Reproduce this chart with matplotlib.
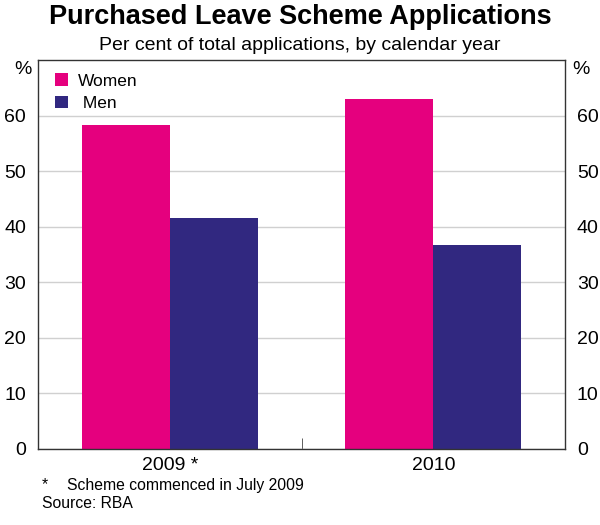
import numpy as np
import matplotlib.pyplot as plt

plt.rcParams['font.family'] = ['Liberation Sans', 'DejaVu Sans']

years = ['2009 *', '2010']
women = [58.3, 63.1]
men = [41.6, 36.7]
yticks = [0, 10, 20, 30, 40, 50, 60]

pink = '#e5007e'
navy = '#312880'

fig = plt.figure(figsize=(6, 5.25), dpi=100)
ax = fig.add_axes([0.0633, 0.1453, 0.8784, 0.7395])

x = np.arange(len(years))
w = 1 / 3
ax.bar(x - w / 2, women, w, color=pink, label='Women', zorder=2)
ax.bar(x + w / 2, men, w, color=navy, label=' Men', zorder=2)

ax.set_xlim(-0.5, 1.5)
ax.set_ylim(0, 70)
ax.set_yticks(yticks)
ax.yaxis.grid(True, color='#d0d0d0', lw=1, zorder=0)
ax.set_axisbelow(True)
ax.tick_params(axis='y', which='both', left=False, right=False,
               labelleft=True, labelright=True, labelsize=14, pad=5)
ax.set_xticks(x)
ax.set_xticklabels(years, fontsize=14)
ax.tick_params(axis='x', which='major', length=0, pad=6)
ax.set_xticks([0.5], minor=True)
ax.tick_params(axis='x', which='minor', direction='in', length=8, color='#444444')
for s in ax.spines.values():
    s.set_color('#333333')
    s.set_linewidth(1)

# % labels at top
ax.text(-0.013, 68.4, '%', transform=ax.get_yaxis_transform(), ha='right', va='center', fontsize=14)
ax.text(1.013, 68.4, '%', transform=ax.get_yaxis_transform(), ha='left', va='center', fontsize=14)

ax.legend(loc='upper left', frameon=False, fontsize=12.5, handlelength=0.75,
          handleheight=0.75, handletextpad=0.55, labelspacing=0.4,
          borderaxespad=0.0, bbox_to_anchor=(0.02, 0.985))

fig.text(0.5, 0.967, 'Purchased Leave Scheme Applications', ha='center', va='center',
         fontsize=19.5, fontweight='bold')
fig.text(0.5, 0.914, 'Per cent of total applications, by calendar year', ha='center',
         va='center', fontsize=14)
fig.text(0.07, 0.076, '*', ha='left', va='center', fontsize=11.3)
fig.text(0.112, 0.076, 'Scheme commenced in July 2009', ha='left', va='center', fontsize=11.3)
fig.text(0.07, 0.04, 'Source: RBA', ha='left', va='center', fontsize=11.3)

fig.savefig('out.png', dpi=100)
